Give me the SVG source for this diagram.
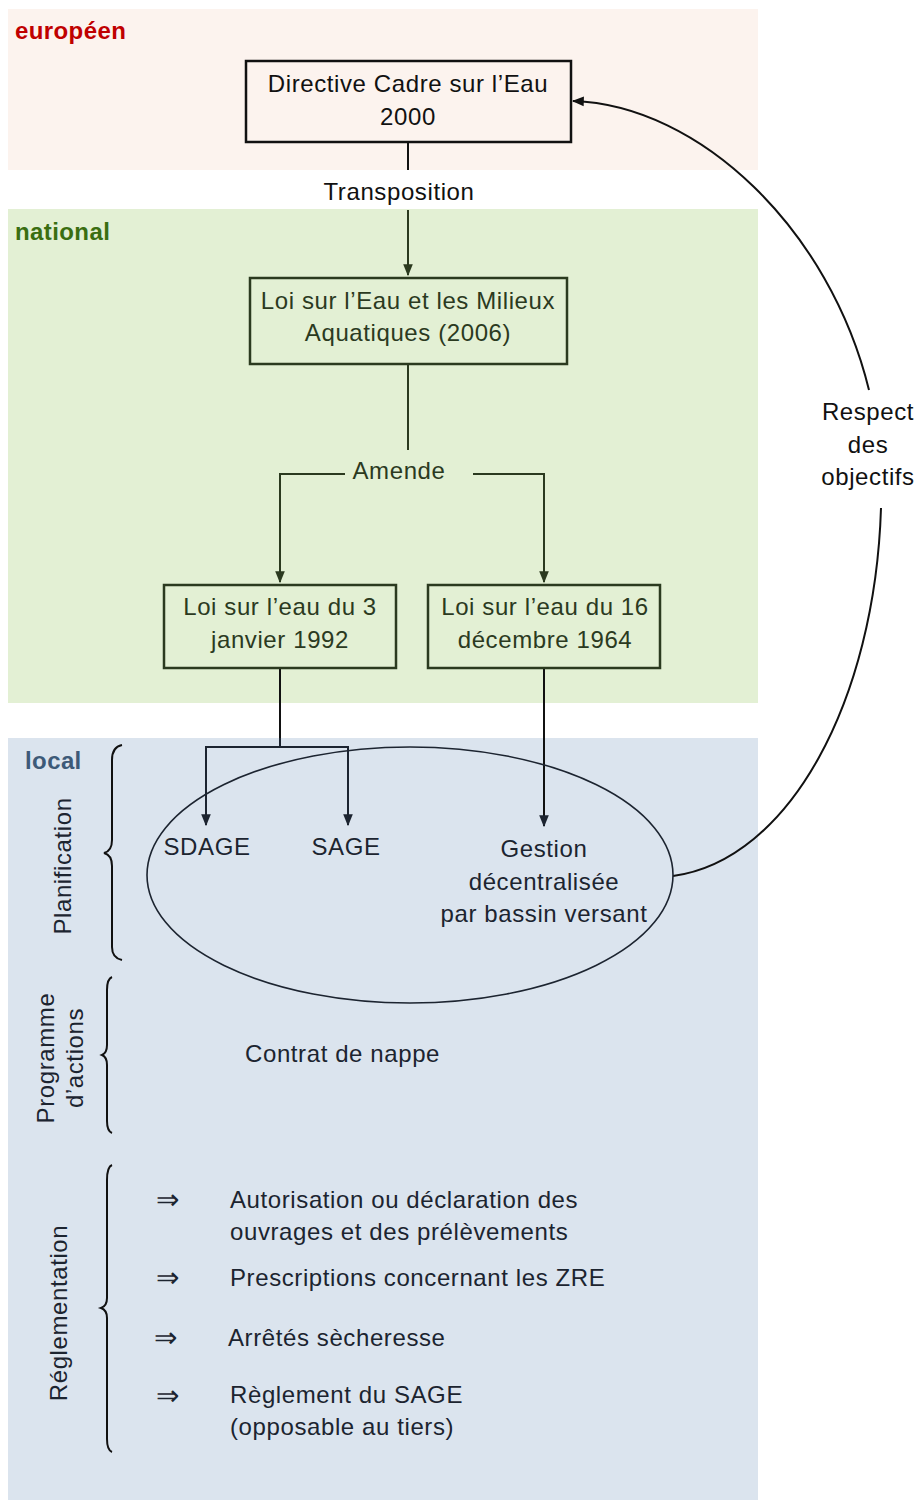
<svg xmlns="http://www.w3.org/2000/svg" width="919" height="1501" viewBox="0 0 919 1501">
  <defs>
    <style>
      text { font-family: "Liberation Sans", Arial, sans-serif; font-size: 24px; letter-spacing: 0.6px; }
      .band-title { font-weight: bold; font-size: 24px; letter-spacing: 0.4px; }
      .c { text-anchor: middle; }
      .dark { fill: #111111; }
      .green { fill: #2b3a1f; }
      .loc { fill: #1c2430; }
      .implies { font-size: 28px; letter-spacing: 0; }
      .box-eu { fill: #fcf3ee; stroke: #111111; stroke-width: 2.5; }
      .box-nat { fill: #e3f0d4; stroke: #2b3a1f; stroke-width: 2.5; }
      .conn { fill: none; stroke-width: 2; }
      .brace { fill: none; stroke: #111111; stroke-width: 2; }
    </style>
    <marker id="arrowBlack" viewBox="0 0 10 10" refX="9" refY="5" markerWidth="6" markerHeight="6" orient="auto">
      <path d="M0,1 L10,5 L0,9 z" fill="#111111"/>
    </marker>
    <marker id="arrowGreen" viewBox="0 0 10 10" refX="9" refY="5" markerWidth="6" markerHeight="6" orient="auto">
      <path d="M0,1 L10,5 L0,9 z" fill="#2b3a1f"/>
    </marker>
    <marker id="arrowLocal" viewBox="0 0 10 10" refX="9" refY="5" markerWidth="6" markerHeight="6" orient="auto">
      <path d="M0,1 L10,5 L0,9 z" fill="#1c2430"/>
    </marker>
  </defs>

  <!-- level bands -->
  <g id="bands">
    <rect x="8" y="9" width="750" height="161" fill="#fcf3ee"/>
    <rect x="8" y="209" width="750" height="494" fill="#e3f0d4"/>
    <rect x="8" y="738" width="750" height="762" fill="#dbe4ee"/>
    <text class="band-title" x="15" y="39" fill="#c00000">européen</text>
    <text class="band-title" x="15" y="240" fill="#3a6e11">national</text>
    <text class="band-title" x="25" y="769" fill="#3d5a78">local</text>
  </g>

  <!-- connectors -->
  <g id="connectors">
    <path class="conn" stroke="#111111" d="M408,142 V170"/>
    <path class="conn" stroke="#2b3a1f" d="M408,210 V275" marker-end="url(#arrowGreen)"/>
    <path class="conn" stroke="#2b3a1f" d="M408,364 V450"/>
    <path class="conn" stroke="#2b3a1f" d="M345,474 H280 V582" marker-end="url(#arrowGreen)"/>
    <path class="conn" stroke="#2b3a1f" d="M473,474 H544 V582" marker-end="url(#arrowGreen)"/>
    <path class="conn" stroke="#111111" d="M280,668 V738"/>
    <path class="conn" stroke="#1c2430" d="M280,738 V747"/>
    <path class="conn" stroke="#1c2430" d="M280,747 H206 V825" marker-end="url(#arrowLocal)"/>
    <path class="conn" stroke="#1c2430" d="M280,747 H348 V825" marker-end="url(#arrowLocal)"/>
    <path class="conn" stroke="#111111" d="M544,668 V826" marker-end="url(#arrowLocal)"/>
    <!-- feedback arc back to the directive -->
    <path class="conn" stroke="#111111" stroke-width="1.6" d="M673,876 C790,860 875,700 881,508"/>
    <path class="conn" stroke="#111111" stroke-width="1.6" d="M869,390 C830,230 700,105 573,101" marker-end="url(#arrowBlack)"/>
  </g>

  <!-- connector labels -->
  <g id="labels">
    <text class="c dark" x="399" y="200">Transposition</text>
    <text class="c green" x="399" y="479">Amende</text>
    <text class="c dark" x="868" y="420">Respect</text>
    <text class="c dark" x="868" y="453">des</text>
    <text class="c dark" x="868" y="485">objectifs</text>
  </g>

  <g id="node-dce">
    <rect class="box-eu" x="246" y="61" width="325" height="81"/>
    <text class="c dark" x="408" y="92">Directive Cadre sur l’Eau</text>
    <text class="c dark" x="408" y="125">2000</text>
  </g>

  <g id="node-lema">
    <rect class="box-nat" x="250" y="278" width="317" height="86"/>
    <text class="c green" x="408" y="309">Loi sur l’Eau et les Milieux</text>
    <text class="c green" x="408" y="341">Aquatiques (2006)</text>
  </g>

  <g id="node-loi1992">
    <rect class="box-nat" x="164" y="585" width="232" height="83"/>
    <text class="c green" x="280" y="615">Loi sur l’eau du 3</text>
    <text class="c green" x="280" y="648">janvier 1992</text>
  </g>

  <g id="node-loi1964">
    <rect class="box-nat" x="428" y="585" width="232" height="83"/>
    <text class="c green" x="545" y="615">Loi sur l’eau du 16</text>
    <text class="c green" x="545" y="648">décembre 1964</text>
  </g>

  <g id="node-planification">
    <ellipse cx="410" cy="875" rx="263" ry="128" fill="none" stroke="#1c2430" stroke-width="1.6"/>
    <text class="c loc" x="207" y="855">SDAGE</text>
    <text class="c loc" x="346" y="855">SAGE</text>
    <text class="c loc" x="544" y="857">Gestion</text>
    <text class="c loc" x="544" y="890">décentralisée</text>
    <text class="c loc" x="544" y="922">par bassin versant</text>
  </g>

  <!-- local instruments grouped by braces -->
  <g id="group-planification">
    <path class="brace" d="M122,745 Q112,747 112,760 V840 Q112,851 104,853 Q112,855 112,866 V947 Q112,958 122,960"/>
    <text class="c loc" transform="translate(71,866) rotate(-90)">Planification</text>
  </g>

  <g id="group-programme">
    <path class="brace" d="M112,977 Q107,979 107,990 V1045 Q107,1053 102,1055 Q107,1057 107,1065 V1121 Q107,1131 112,1133"/>
    <text class="c loc" transform="translate(54,1058) rotate(-90)">Programme</text>
    <text class="c loc" transform="translate(83,1058) rotate(-90)">d’actions</text>
    <text class="loc" x="245" y="1062">Contrat de nappe</text>
  </g>

  <g id="group-reglementation">
    <path class="brace" d="M112,1165 Q107,1167 107,1180 V1298 Q107,1306 101,1308 Q107,1310 107,1318 V1439 Q107,1450 112,1452"/>
    <text class="c loc" transform="translate(67,1313) rotate(-90)">Réglementation</text>
    <text class="loc implies" x="156" y="1209">⇒</text>
    <text class="loc" x="230" y="1208">Autorisation ou déclaration des</text>
    <text class="loc" x="230" y="1240">ouvrages et des prélèvements</text>
    <text class="loc implies" x="156" y="1287">⇒</text>
    <text class="loc" x="230" y="1286">Prescriptions concernant les ZRE</text>
    <text class="loc implies" x="154" y="1347">⇒</text>
    <text class="loc" x="228" y="1346">Arrêtés sècheresse</text>
    <text class="loc implies" x="156" y="1405">⇒</text>
    <text class="loc" x="230" y="1403">Règlement du SAGE</text>
    <text class="loc" x="230" y="1435">(opposable au tiers)</text>
  </g>
</svg>
